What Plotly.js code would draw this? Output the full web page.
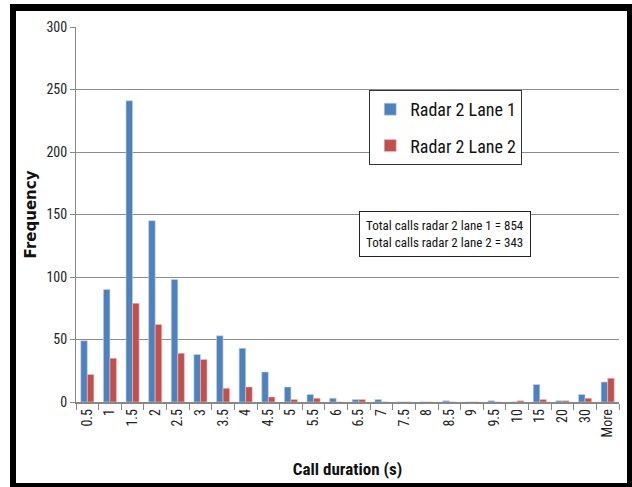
<!DOCTYPE html>
<html><head><meta charset="utf-8">
<script src="https://cdn.plot.ly/plotly-3.0.1.min.js"></script>
<style>
html,body{margin:0;padding:0;background:#fff;width:632px;height:487px;overflow:hidden;}
#frame{position:absolute;left:10px;top:4px;width:622px;height:483px;background:#000;}
#plot{position:absolute;left:6px;top:7px;width:611px;height:472px;background:#fff;}
</style></head>
<body>
<div id="frame"><div id="plot"></div></div>
<script>
const categories = ["0.5","1","1.5","2","2.5","3","3.5","4","4.5","5","5.5","6","6.5","7","7.5","8","8.5","9","9.5","10","15","20","30","More"];
const lane1 = [49,90,241,145,98,38,53,43,24,12,6,3,2,2,0,0,1,0,1,0,14,1,6,16];
const lane2 = [22,35,79,62,39,34,11,12,4,2,3,0,2,0,0,0,0,0,0,1,2,1,3,19];
const seriesNames = ["Radar 2 Lane 1","Radar 2 Lane 2"];
const yTicks = [0,50,100,150,200,250,300];
const noteLines = ["Total calls radar 2 lane 1 = 854","Total calls radar 2 lane 2 = 343"];

const FONT = "Liberation Sans Narrow, Arial Narrow, Roboto Condensed, Arial, sans-serif";

const traces = [
  {type:'bar', x:categories, y:lane1, name:seriesNames[0], legendgroup:'a',
   marker:{color:'#4F81BD', line:{color:'#C6D5EA', width:0.6}}},
  {type:'bar', x:categories, y:lane2, name:seriesNames[1], legendgroup:'b',
   marker:{color:'#C0504D', line:{color:'#ECC5C4', width:0.6}}}
];

const layout = {
  width:611, height:472,
  margin:{l:60, r:8, t:16, b:81},
  paper_bgcolor:'#fff', plot_bgcolor:'#fff',
  font:{family:FONT, color:'#222', size:13},
  barmode:'group', bargap:0.42, bargroupgap:0,
  showlegend:true,
  legend:{x:0.54, y:0.832, xanchor:'left', yanchor:'top',
    bgcolor:'#fff', bordercolor:'#333', borderwidth:1,
    font:{family:FONT, size:18, color:'#111'},
    traceorder:'grouped', tracegroupgap:10, itemwidth:30},
  xaxis:{type:'category', tickangle:-90, tickson:'boundaries', ticks:'outside', ticklen:6,
    tickcolor:'#888', showline:true, linecolor:'#888', linewidth:1.5, showgrid:false,
    tickfont:{family:FONT, size:14, color:'#222'},
    title:{text:'<b>Call duration (s)</b>', font:{family:FONT, size:17, color:'#111'}, standoff:26}},
  yaxis:{range:[0,300], tickvals:yTicks, ticks:'outside', ticklen:5, tickcolor:'#888',
    showline:true, linecolor:'#888', linewidth:1, showgrid:true, gridcolor:'#8c8c8c', gridwidth:1,
    zeroline:false,
    tickfont:{family:FONT, size:14, color:'#222'},
    title:{text:'<b>Frequency</b>', font:{family:'DejaVu Sans, sans-serif', size:15, color:'#111'}, standoff:6}},
  annotations:[{xref:'paper', yref:'paper', x:0.68, y:0.449, xanchor:'center', yanchor:'middle',
    text:noteLines.join('<br>'), showarrow:false, align:'left',
    font:{family:FONT, size:13, color:'#111'},
    bgcolor:'#fff', bordercolor:'#222', borderwidth:1, borderpad:6}]
};
Plotly.newPlot('plot', traces, layout, {displayModeBar:false, staticPlot:true});
</script>
</body></html>
